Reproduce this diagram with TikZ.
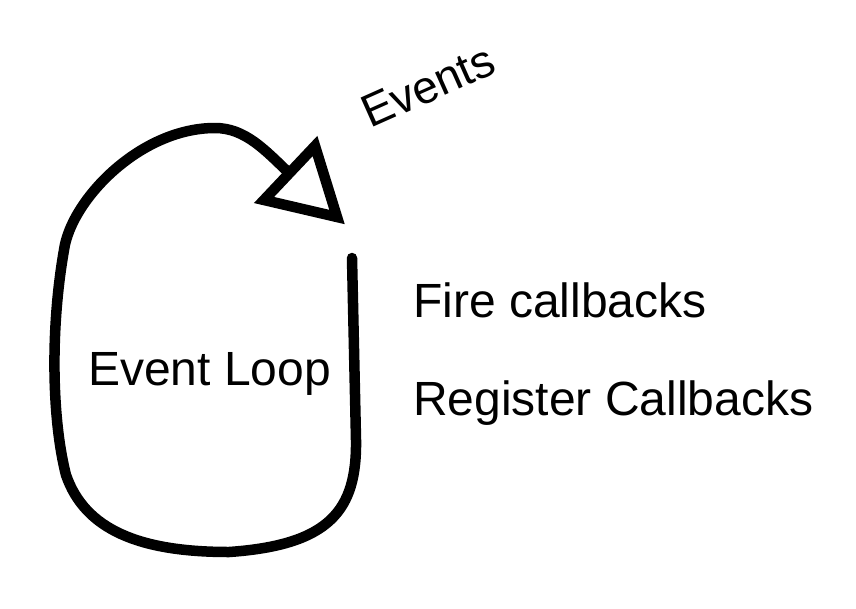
\documentclass[tikz,border=0pt]{standalone}
\usepackage{fontspec}
\setmainfont{Liberation Sans}
\begin{document}
\begin{tikzpicture}[x=1pt,y=-1pt,
  lbl/.style={inner sep=0pt,anchor=base west,font=\fontsize{48}{57}\selectfont},
  loopline/.style={line width=10.5pt,line cap=round,line join=round},
  tipline/.style={line width=10.5pt,line join=miter}]
\useasboundingbox[fill=white] (0,0) rectangle (856,608);
% loop
\coordinate (s) at (352,258);
\coordinate (b) at (356,440);
\coordinate (c) at (229,552);
\coordinate (d) at (66,475);
\coordinate (e) at (64,250);
\coordinate (f) at (215,128);
\coordinate (g) at (289,173);
\draw[loopline] (s) -- (b)
  .. controls (357,510) and (330,545) .. (c)
  .. controls (140,552) and (85,530) .. (d)
  .. controls (52,420) and (50,330) .. (e)
  .. controls (71,200) and (140,128) .. (f)
  .. controls (245,128) and (265,150) .. (g);
% open triangle arrow head
\coordinate (t1) at (315,146);
\coordinate (t2) at (264,200);
\coordinate (t3) at (337,217);
\draw[tipline,fill=white] (t1) -- (t2) -- (t3) -- cycle;
% labels
\node[lbl] (loop) at (88,385) {Event Loop};
\node[lbl] (fire) at (413,317) {Fire callbacks};
\node[lbl] (reg) at (413,415) {Register Callbacks};
\node[lbl,font=\fontsize{46}{55}\selectfont,rotate=24] (ev) at (370,129) {Events};
\end{tikzpicture}
\end{document}
